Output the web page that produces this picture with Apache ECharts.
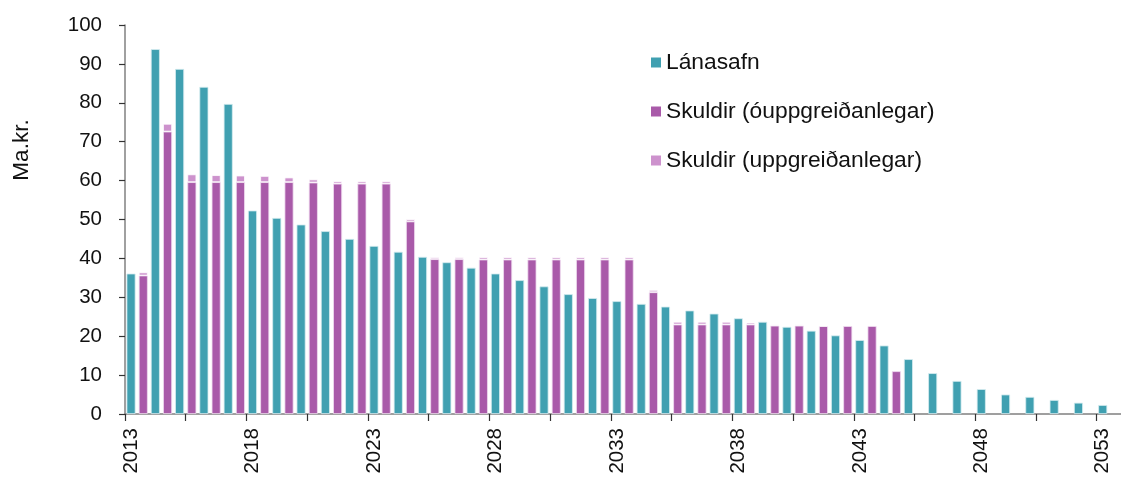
<!DOCTYPE html>
<html>
<head>
<meta charset="utf-8">
<script src="https://cdn.jsdelivr.net/npm/echarts@6/dist/echarts.min.js"></script>
<style>
  html, body { margin: 0; padding: 0; background: #fff; }
  #chart { width: 1121px; height: 480px; }
</style>
</head>
<body>
<div id="chart"></div>
<script>
// ár 2013-2053
const years = []
for (let y = 2013; y <= 2053; y++) years.push(String(y))

// Lánasafn, ma.kr.
const lanasafn = [
  36.1, 93.8, 88.7, 84.1, 79.7, 52.3, 50.4, 48.7, 47.0, 45.0,
  43.2, 41.7, 40.4, 39.0, 37.6, 36.1, 34.4, 32.8, 30.8, 29.8,
  29.0, 28.3, 27.6, 26.6, 25.8, 24.6, 23.7, 22.4, 21.4, 20.2,
  19.0, 17.6, 14.1, 10.5, 8.5, 6.4, 5.0, 4.4, 3.6, 2.9,
  2.3
]

// Skuldir (óuppgreiðanlegar)
const skuldirOupp = [
  35.6, 72.6, 59.6, 59.6, 59.6, 59.6, 59.6, 59.5, 59.2, 59.2,
  59.2, 49.5, 39.8, 39.8, 39.7, 39.7, 39.7, 39.7, 39.7, 39.7,
  39.7, 31.3, 23.0, 23.0, 23.0, 23.0, 22.7, 22.7, 22.6, 22.6,
  22.6, 11.0, null, null, null, null, null, null, null, null,
  null
]

// Skuldir (uppgreiðanlegar)
const skuldirUpp = [
  0.8, 2.0, 2.0, 1.8, 1.7, 1.6, 1.2, 0.8, 0.6, 0.6,
  0.6, 0.6, 0.5, 0.5, 0.6, 0.6, 0.6, 0.6, 0.6, 0.6,
  0.6, 0.6, 0.7, 0.7, 0.7, 0.5, 0.3, 0.3, 0.1, null,
  null, null, null, null, null, null, null, null, null, null,
  null
]

const seriesNames = ['Lánasafn', 'Skuldir (óuppgreiðanlegar)', 'Skuldir (uppgreiðanlegar)']
const colors = ['#40a0b1', '#a95aa9', '#cd92cd']

const font = '"Liberation Sans", Arial, sans-serif'

// merkingar á x-ás: á 5 ára fresti, við fyrri súluna
const labelPos = []
years.forEach((y, i) => { if (i % 5 === 0) labelPos.push(i + 0.25) })
const tickPos = []
for (let t = 0; t <= 40; t += 2.5) tickPos.push(t)

const chart = echarts.init(document.getElementById('chart'))
chart.setOption({
  animation: false,
  color: colors,
  textStyle: { fontFamily: font },
  grid: { left: 125, top: 25, width: 1001.6, bottom: 66 },
  legend: {
    orient: 'vertical',
    left: 646,
    top: 46,
    itemWidth: 10,
    itemHeight: 10,
    itemGap: 26,
    icon: 'rect',
    itemStyle: { borderWidth: 0 },
    textStyle: { fontSize: 22.8, color: '#111', fontFamily: font },
    data: seriesNames
  },
  graphic: [{
    type: 'text',
    x: 22,
    y: 150,
    rotation: Math.PI / 2,
    style: {
      text: 'Ma.kr.',
      font: '22.5px ' + font,
      fill: '#111',
      align: 'center',
      verticalAlign: 'middle'
    }
  }],
  xAxis: [
    {
      type: 'category',
      data: years,
      axisLine: { show: false },
      axisTick: { show: false },
      axisLabel: { show: false }
    },
    {
      type: 'value',
      min: 0,
      max: 41,
      position: 'bottom',
      splitLine: { show: false },
      axisLine: { show: true, onZero: false, lineStyle: { color: '#808080', width: 1.5 } },
      axisTick: { show: true, length: 7, customValues: tickPos, lineStyle: { color: '#333', width: 1.2 } },
      axisLabel: {
        customValues: labelPos,
        rotate: 90,
        margin: 14,
        fontSize: 20.5,
        color: '#111',
        fontFamily: font,
        formatter: v => years[Math.round(v - 0.25)]
      }
    }
  ],
  yAxis: {
    type: 'value',
    min: 0,
    max: 100,
    interval: 10,
    splitLine: { show: false },
    axisLine: { show: true, lineStyle: { color: '#808080', width: 1.5 } },
    axisTick: { show: true, length: 6, lineStyle: { color: '#333', width: 1.2 } },
    axisLabel: { fontSize: 20.5, color: '#111', margin: 23, fontFamily: font }
  },
  series: [
    {
      name: seriesNames[0],
      type: 'bar',
      barWidth: 9,
      barGap: '36%',
      data: lanasafn,
      itemStyle: { borderColor: '#d5ecf0', borderWidth: 0.8 }
    },
    {
      name: seriesNames[1],
      type: 'bar',
      stack: 'skuldir',
      barWidth: 9,
      data: skuldirOupp,
      itemStyle: { borderColor: '#f0dcf0', borderWidth: 0.8 }
    },
    {
      name: seriesNames[2],
      type: 'bar',
      stack: 'skuldir',
      barWidth: 9,
      data: skuldirUpp,
      itemStyle: { borderColor: '#ffffff', borderWidth: 0.8 }
    }
  ]
})
</script>
</body>
</html>
